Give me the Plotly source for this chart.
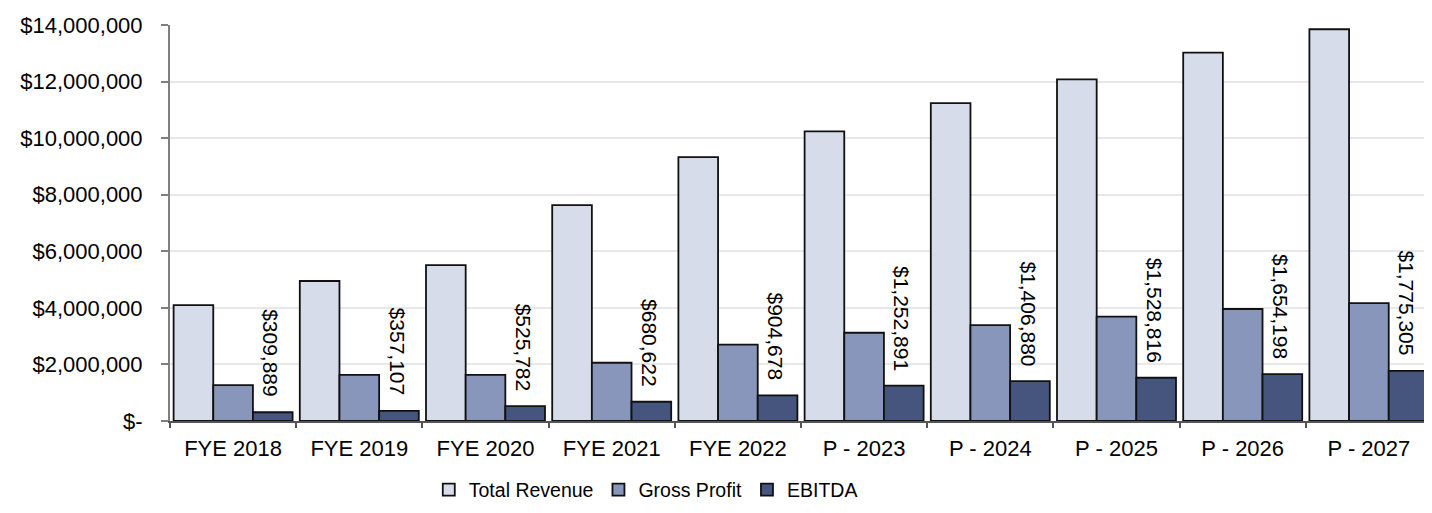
import plotly.graph_objects as go

categories = ["FYE 2018", "FYE 2019", "FYE 2020", "FYE 2021", "FYE 2022",
              "P - 2023", "P - 2024", "P - 2025", "P - 2026", "P - 2027"]
total_revenue = [4100000, 4950000, 5510000, 7630000, 9330000,
                 10240000, 11240000, 12080000, 13020000, 13850000]
gross_profit = [1270000, 1630000, 1630000, 2060000, 2700000,
                3120000, 3390000, 3690000, 3960000, 4170000]
ebitda = [309889, 357107, 525782, 680622, 904678,
          1252891, 1406880, 1528816, 1654198, 1775305]

y_tickvals = [0, 2000000, 4000000, 6000000, 8000000, 10000000, 12000000, 14000000]
y_ticktext = ["$-", "$2,000,000", "$4,000,000", "$6,000,000", "$8,000,000",
              "$10,000,000", "$12,000,000", "$14,000,000"]

FONT = "Arial, Liberation Sans, sans-serif"
line = dict(color="#111111", width=1.8)

fig = go.Figure()
fig.add_trace(go.Bar(name="Total Revenue", x=categories, y=total_revenue,
                     marker=dict(color="#D6DCE9", line=line)))
fig.add_trace(go.Bar(name="Gross Profit", x=categories, y=gross_profit,
                     marker=dict(color="#8796BA", line=line)))
fig.add_trace(go.Bar(name="EBITDA", x=categories, y=ebitda,
                     marker=dict(color="#46557D", line=line)))

for c, v in zip(categories, ebitda):
    fig.add_annotation(x=c, y=v, xref="x", yref="y", text=f"${v:,}",
                       textangle=90, showarrow=False, xanchor="center",
                       yanchor="bottom", xshift=38, yshift=13,
                       font=dict(family=FONT, size=21, color="#000000"))

# page body has ~8px default margin; compensate so the plot area lands where the reference has it
fig.update_layout(
    width=1424, height=505,
    margin=dict(l=162, r=0, t=17, b=92),
    paper_bgcolor="white", plot_bgcolor="white",
    barmode="group", bargap=0.057, bargroupgap=0,
    font=dict(family=FONT, size=21, color="#000000"),
    showlegend=True,
    legend=dict(orientation="h", x=0.377, xanchor="center", y=-0.174,
                yanchor="middle", font=dict(family=FONT, size=19.5),
                itemwidth=30, traceorder="normal"),
)
fig.update_yaxes(range=[0, 14000000], tickvals=y_tickvals, ticktext=y_ticktext,
                 showgrid=True, gridcolor="#E8E8E8", gridwidth=1.5,
                 showline=True, linecolor="#7F7F7F", linewidth=2,
                 ticks="outside", ticklen=7, tickcolor="#7F7F7F", tickwidth=1.5,
                 ticklabelstandoff=14, zeroline=False,
                 tickfont=dict(family=FONT, size=22))
fig.update_xaxes(showline=True, linecolor="#555555", linewidth=2,
                 ticks="outside", tickson="boundaries", ticklen=5,
                 tickcolor="#555555", tickwidth=1.5, showgrid=False,
                 ticklabelstandoff=7, tickfont=dict(family=FONT, size=22))

fig.write_html("out.html")
